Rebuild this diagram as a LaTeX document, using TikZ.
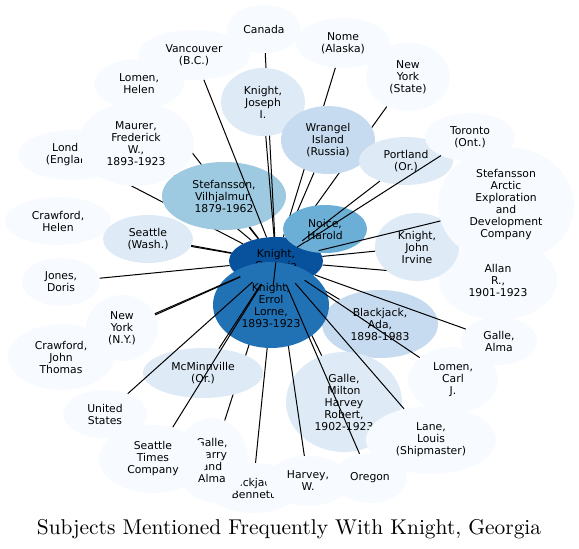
\documentclass[tikz,border=0pt]{standalone}
\usepackage{fontspec}
\usepackage{tikz}
\usetikzlibrary{shapes.geometric}
\newfontfamily\subjfont{DejaVu Sans}
\newfontfamily\captionfont[Extension=.otf]{lmroman10-regular}
\definecolor{blueA}{HTML}{F7FBFF}
\definecolor{blueB}{HTML}{DEEBF7}
\definecolor{blueC}{HTML}{C6DBEF}
\definecolor{blueD}{HTML}{9ECAE1}
\definecolor{blueE}{HTML}{6BAED6}
\definecolor{blueF}{HTML}{2171B5}
\definecolor{blueG}{HTML}{08519C}

\begin{document}
\begin{tikzpicture}[x=1pt, y=-1pt,
    subj/.style={ellipse, inner sep=0pt, align=center, fill=blueA,
      font=\subjfont\fontsize{10.8}{12}\selectfont},
    link/.style={line width=1pt}]
    \useasboundingbox (0,0) rectangle (579,549);
    % the person at the middle
    \node[subj, fill=blueG, minimum width=94, minimum height=48] (georgia) at (276,261) {Knight,\\Georgia};
    % nodes and links, in the order they are laid down
    \node[subj, minimum width=90, minimum height=50] (lomenh) at (139,84) {Lomen,\\Helen};
    \draw[link] (georgia) -- (lomenh);
    \node[subj, minimum width=108, minimum height=50] (london) at (72,155) {London\\(England)};
    \draw[link] (georgia) -- (london);
    \node[subj, minimum width=116, minimum height=84] (maurer) at (136,144) {Maurer,\\Frederick\\W.,\\1893-1923};
    \draw[link] (georgia) -- (maurer);
    \node[subj, fill=blueD, minimum width=124, minimum height=68] (vilhjalmur) at (224,196) {Stefansson,\\Vilhjalmur,\\1879-1962};
    \draw[link] (georgia) -- (vilhjalmur);
    \node[subj, minimum width=112, minimum height=50] (vancouver) at (194,55) {Vancouver\\(B.C.)};
    \draw[link] (georgia) -- (vancouver);
    \node[subj, minimum width=74, minimum height=48] (canada) at (264,29) {Canada};
    \draw[link] (georgia) -- (canada);
    \node[subj, fill=blueB, minimum width=84, minimum height=68] (joseph) at (263,102) {Knight,\\Joseph\\I.};
    \draw[link] (georgia) -- (joseph);
    \node[subj, minimum width=94, minimum height=50] (nome) at (343,43) {Nome\\(Alaska)};
    \draw[link] (georgia) -- (nome);
    \node[subj, minimum width=84, minimum height=68] (nystate) at (408,77) {New\\York\\(State)};
    \draw[link] (georgia) -- (nystate);
    \node[subj, fill=blueC, minimum width=94, minimum height=68] (wrangel) at (328,140) {Wrangel\\Island\\(Russia)};
    \draw[link] (georgia) -- (wrangel);
    \node[subj, fill=blueE, minimum width=84, minimum height=48] (noice) at (325,229) {Noice,\\Harold};
    \draw[link] (georgia) -- (noice);
    \node[subj, fill=blueB, minimum width=94, minimum height=48] (portland) at (406,161) {Portland\\(Or.)};
    \draw[link] (georgia) -- (portland);
    \node[subj, minimum width=90, minimum height=48] (toronto) at (470,137) {Toronto\\(Ont.)};
    \draw[link] (georgia) -- (toronto);
    \node[subj, minimum width=118, minimum height=80] (allan) at (498,280) {Allan\\R.,\\1901-1923};
    \draw[link] (georgia) -- (allan);
    \node[subj, fill=blueB, minimum width=84, minimum height=68] (irvine) at (417,247) {Knight,\\John\\Irvine};
    \draw[link] (georgia) -- (irvine);
    \node[subj, minimum width=136, minimum height=116] (company) at (506,205) {Stefansson\\Arctic\\Exploration\\and\\Development\\Company};
    \draw[link] (georgia) -- (company);
    \node[subj, fill=blueC, minimum width=116, minimum height=68] (ada) at (380,324) {Blackjack,\\Ada,\\1898-1983};
    \draw[link] (georgia) -- (ada);
    \node[subj, fill=blueB, minimum width=116, minimum height=100] (milton) at (344,402) {Galle,\\Milton\\Harvey\\Robert,\\1902-1923};
    \draw[link] (georgia) -- (milton);
    \node[subj, minimum width=94, minimum height=50] (bennett) at (253,488) {Blackjack,\\Bennett};
    \draw[link] (georgia) -- (bennett);
    \node[subj, minimum width=84, minimum height=50] (harvey) at (308,481) {Harvey,\\W.};
    \draw[link] (georgia) -- (harvey);
    \node[subj, minimum width=72, minimum height=84] (harry) at (212,460) {Galle,\\Harry\\and\\Alma};
    \draw[link] (georgia) -- (harry);
    \node[subj, fill=blueF, minimum width=116, minimum height=86] (errol) at (271,305) {Knight,\\Errol\\Lorne,\\1893-1923};
    \draw[link] (georgia) -- (errol);
    \node[subj, minimum width=76, minimum height=48] (alma) at (499,341) {Galle,\\Alma};
    \draw[link] (georgia) -- (alma);
    \node[subj, minimum width=90, minimum height=66] (carl) at (453,380) {Lomen,\\Carl\\J.};
    \draw[link] (georgia) -- (carl);
    \node[subj, minimum width=130, minimum height=68] (lane) at (431,440) {Lane,\\Louis\\(Shipmaster)};
    \draw[link] (georgia) -- (lane);
    \node[subj, minimum width=74, minimum height=50] (oregon) at (370,478) {Oregon};
    \draw[link] (georgia) -- (oregon);
    \node[subj, fill=blueB, minimum width=120, minimum height=50] (mcminnville) at (203,373) {McMinnville\\(Or.)};
    \draw[link] (georgia) -- (mcminnville);
    \node[subj, minimum width=108, minimum height=68] (times) at (153,459) {Seattle\\Times\\Company};
    \draw[link] (georgia) -- (times);
    \node[subj, minimum width=84, minimum height=48] (states) at (105,414) {United\\States};
    \draw[link] (georgia) -- (states);
    \node[subj, minimum width=106, minimum height=66] (thomas) at (61,357) {Crawford,\\John\\Thomas};
    \draw[link] (georgia) -- (thomas);
    \node[subj, minimum width=72, minimum height=66] (nyny) at (122,328) {New\\York\\(N.Y.)};
    \draw[link] (georgia) -- (nyny);
    \node[subj, minimum width=78, minimum height=48] (doris) at (61,282) {Jones,\\Doris};
    \draw[link] (georgia) -- (doris);
    \node[subj, minimum width=106, minimum height=48] (helen) at (58,221) {Crawford,\\Helen};
    \draw[link] (georgia) -- (helen);
    \node[subj, fill=blueB, minimum width=90, minimum height=48] (seattle) at (148,239) {Seattle\\(Wash.)};
    \draw[link] (georgia) -- (seattle);
    % caption
    \node[anchor=base, inner sep=0pt, font=\captionfont\fontsize{21.4}{25}\selectfont] (title) at (289,534) {Subjects Mentioned Frequently With Knight, Georgia};
\end{tikzpicture}
\end{document}
